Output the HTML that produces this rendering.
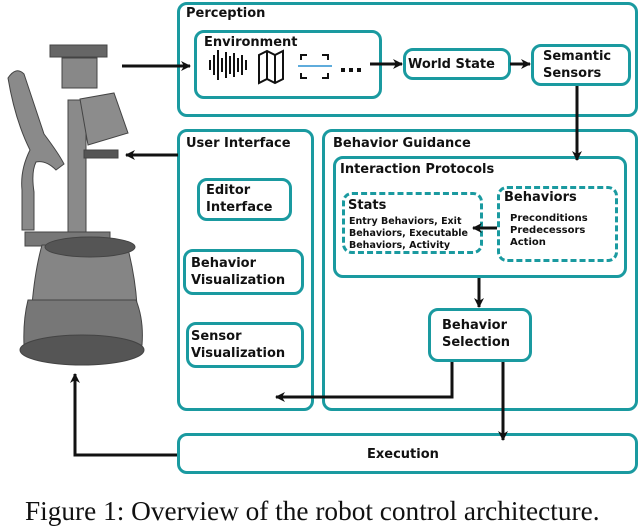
<!DOCTYPE html>
<html><head><meta charset="utf-8"><style>
body{margin:0;width:640px;height:509px;background:#fff;overflow:hidden;position:relative;font-family:"DejaVu Sans","Liberation Sans",sans-serif;font-weight:bold;color:#111}
.b{position:absolute;border:3px solid #1a9aa0;border-radius:10px;box-sizing:border-box}
.d{position:absolute;border:3px dashed #1a9aa0;border-radius:10px;box-sizing:border-box}
.t{position:absolute;font-size:13px;line-height:17px}
.s{position:absolute;font-size:10px;line-height:12px}
.cap{position:absolute;left:25px;top:498px;font-family:"Liberation Serif",serif;font-weight:normal;font-size:27.3px;line-height:27px;white-space:nowrap}
</style></head><body>
<div class="b" style="left:177px;top:2px;width:461px;height:115px"></div>
<div class="t" style="left:186px;top:5px">Perception</div>
<div class="b" style="left:194px;top:30px;width:188px;height:69px"></div>
<div class="t" style="left:204px;top:34px">Environment</div>
<div class="b" style="left:403px;top:48px;width:108px;height:32px"></div>
<div class="t" style="left:408px;top:56px">World State</div>
<div class="b" style="left:531px;top:44px;width:100px;height:42px"></div>
<div class="t" style="left:543px;top:48px">Semantic<br>Sensors</div>

<div class="b" style="left:177px;top:129px;width:137px;height:282px"></div>
<div class="t" style="left:186px;top:135px">User Interface</div>
<div class="b" style="left:197px;top:178px;width:95px;height:43px"></div>
<div class="t" style="left:206px;top:182px">Editor<br>Interface</div>
<div class="b" style="left:183px;top:249px;width:121px;height:46px"></div>
<div class="t" style="left:191px;top:255px">Behavior<br>Visualization</div>
<div class="b" style="left:186px;top:322px;width:118px;height:46px"></div>
<div class="t" style="left:191px;top:328px">Sensor<br>Visualization</div>

<div class="b" style="left:322px;top:129px;width:316px;height:282px"></div>
<div class="t" style="left:333px;top:135px">Behavior Guidance</div>
<div class="b" style="left:333px;top:156px;width:294px;height:122px"></div>
<div class="t" style="left:340px;top:161px">Interaction Protocols</div>
<div class="d" style="left:342px;top:192px;width:141px;height:62px"></div>
<div class="t" style="left:348px;top:197px">Stats</div>
<div class="s" style="left:349px;top:216px;font-size:9.5px">Entry Behaviors, Exit<br>Behaviors, Executable<br>Behaviors, Activity</div>
<div class="d" style="left:497px;top:186px;width:121px;height:76px"></div>
<div class="t" style="left:504px;top:189px">Behaviors</div>
<div class="s" style="left:510px;top:213px">Preconditions<br>Predecessors<br>Action</div>
<div class="b" style="left:428px;top:308px;width:104px;height:54px"></div>
<div class="t" style="left:442px;top:317px">Behavior<br>Selection</div>
<div class="b" style="left:177px;top:433px;width:461px;height:41px"></div>
<div class="t" style="left:367px;top:446px">Execution</div>
<div class="cap">Figure 1: Overview of the robot control architecture.</div>

<svg width="640" height="509" style="position:absolute;left:0;top:0">
<defs><marker id="a" markerWidth="10" markerHeight="10" refX="9" refY="5" orient="auto" markerUnits="userSpaceOnUse" viewBox="0 0 10 10"><path d="M0,0 L10,5 L0,10 L3,5Z" fill="#111"/></marker></defs>
<g stroke="#111" stroke-width="3" fill="none" marker-end="url(#a)">
<path d="M122,66H190"/><path d="M370,64H402"/><path d="M510,64H530"/>
<path d="M577,86V160"/><path d="M178,155H126"/><path d="M497,228H473"/>
<path d="M479,278V307"/><path d="M452,362V397H276"/><path d="M503,362V440"/>
<path d="M177,455H75V374"/>
</g>
<g stroke="#111" stroke-width="2">
<path d="M210,60v10M214,55v20M218,50v30M222,58v14M226,52v26M230,56v18M234,53v24M238,58v14M242,55v20M246,60v10"/>
</g>
<path d="M259,55l8,-4l8,4l8,-4v28l-8,4l-8,-4l-8,4z M267,51v28 M275,55v28" stroke="#111" stroke-width="2" fill="none"/>
<path d="M301,60v-5h6M322,55h6v5M301,73v5h6M322,78h6v-5" stroke="#111" stroke-width="2" fill="none"/>
<path d="M298,66h34" stroke="#2a90d0" stroke-width="1.5"/>
<g fill="#111"><rect x="341" y="68" width="4" height="4"/><rect x="349" y="68" width="4" height="4"/><rect x="357" y="68" width="4" height="4"/></g>
<g fill="#777" stroke="#444" stroke-width="1">
<rect x="50" y="45" width="57" height="12" fill="#666"/>
<rect x="62" y="58" width="35" height="30" fill="#888"/>
<rect x="68" y="100" width="18" height="210" fill="#8a8a8a"/>
<path d="M80,99l34,-6l14,40l-40,12z" fill="#8c8c8c"/>
<rect x="84" y="150" width="34" height="8" fill="#555"/>
<path d="M8,78q8,-12 16,-4q10,30 20,60q15,20 20,30l-8,6q-10,-10 -20,-8q-5,10 -2,30v38h-12v-40q-2,-20 8,-40q-15,-30 -22,-72z" fill="#8a8a8a"/>
<rect x="25" y="232" width="85" height="14" fill="#777"/>
<path d="M42,245h85q8,30 10,60h-105q3,-35 10,-60z" fill="#858585"/>
<ellipse cx="90" cy="247" rx="45" ry="10" fill="#555"/>
<path d="M28,300h108q8,20 6,45q-58,20 -118,0q-1,-25 4,-45z" fill="#777"/>
<ellipse cx="82" cy="350" rx="62" ry="15" fill="#555"/>
</g>
</svg>
</body></html>
